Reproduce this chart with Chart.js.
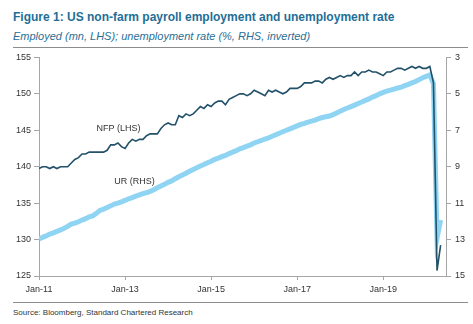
<!DOCTYPE html>
<html>
<head>
<meta charset="utf-8">
<script src="https://cdn.jsdelivr.net/npm/chart.js"></script>
<style>
  body { margin: 0; background: #fff; font-family: Arial, "Liberation Sans", sans-serif; }
  #wrap { position: relative; width: 473px; height: 324px; overflow: hidden; }
  .title { position: absolute; left: 13px; top: 10px; font-size: 12px; font-weight: bold; color: #1f6e97; line-height: 14px; white-space: nowrap; }
  .sub { position: absolute; left: 13px; top: 29px; font-size: 11px; font-style: italic; color: #2a6f96; line-height: 14px; white-space: nowrap; }
  .rule { position: absolute; left: 13px; width: 455px; height: 1px; background: #8c8c8c; }
  .source { position: absolute; left: 13px; top: 308px; font-size: 8px; color: #333; line-height: 10px; white-space: nowrap; }
  #box { position: absolute; left: 0; top: 48px; }
</style>
</head>
<body>
<div id="wrap">
  <div class="title">Figure 1: US non-farm payroll employment and unemployment rate</div>
  <div class="sub">Employed (mn, LHS); unemployment rate (%, RHS, inverted)</div>
  <div class="rule" style="top:47px"></div>
  <canvas id="box" width="473" height="254"></canvas>
  <div class="rule" style="top:302px"></div>
  <div class="source">Source: Bloomberg, Standard Chartered Research</div>
</div>

<script>
// months counted from Jan-11 (index 0) to May-20 (index 112)
const xTickMonths = [0, 24, 48, 72, 96];
const xTickLabels = ['Jan-11', 'Jan-13', 'Jan-15', 'Jan-17', 'Jan-19'];

// dark line, labelled NFP (LHS), mn
const nfpLHS = [
  139.75, 140.0, 140.0, 139.75, 140.0, 139.75, 140.0, 140.0, 140.0, 140.5, 141.0, 141.25,
  141.75, 141.75, 142.0, 142.0, 142.0, 142.0, 142.0, 142.25, 143.0, 143.0, 143.25, 142.75,
  142.5, 143.25, 143.75, 143.5, 143.75, 143.75, 144.25, 144.5, 144.5, 144.5, 145.25, 145.75,
  146.0, 145.75, 145.75, 147.0, 146.75, 147.25, 147.0, 147.25, 147.75, 148.25, 148.0, 148.5,
  148.25, 148.75, 149.0, 149.0, 148.5, 149.25, 149.5, 149.75, 150.0, 150.0, 149.75, 150.0,
  150.5, 150.25, 150.0, 149.75, 150.5, 150.25, 150.5, 150.25, 150.0, 150.25, 150.75, 150.75,
  150.75, 151.0, 151.5, 151.5, 151.5, 151.75, 151.75, 151.5, 152.0, 152.25, 152.0, 152.25,
  152.5, 152.25, 152.5, 152.5, 153.0, 152.5, 153.0, 153.0, 153.25, 153.0, 153.0, 152.75,
  152.5, 153.0, 153.0, 153.25, 153.5, 153.5, 153.25, 153.5, 153.75, 153.5, 153.75, 153.5,
  153.5, 153.75, 151.5, 125.75, 129.25
];

// light line, labelled UR (RHS, inverted), %
const urRHS = [
  12.96, 12.88, 12.80, 12.70, 12.63, 12.55, 12.47, 12.38, 12.28, 12.15, 12.10, 12.02,
  11.93, 11.85, 11.75, 11.70, 11.56, 11.40, 11.33, 11.24, 11.15, 11.05, 11.00, 10.93,
  10.85, 10.76, 10.70, 10.62, 10.55, 10.48, 10.42, 10.36, 10.26, 10.16, 10.06, 9.97,
  9.86, 9.78, 9.66, 9.55, 9.45, 9.36, 9.25, 9.15, 9.06, 8.96, 8.88, 8.78,
  8.70, 8.60, 8.53, 8.45, 8.38, 8.28, 8.20, 8.12, 8.02, 7.95, 7.87, 7.80,
  7.70, 7.63, 7.56, 7.48, 7.42, 7.33, 7.25, 7.16, 7.08, 7.00, 6.92, 6.84,
  6.76, 6.68, 6.62, 6.55, 6.50, 6.44, 6.36, 6.30, 6.26, 6.22, 6.14, 6.05,
  5.95, 5.86, 5.78, 5.70, 5.62, 5.53, 5.45, 5.36, 5.28, 5.18, 5.10, 5.00,
  4.92, 4.85, 4.80, 4.74, 4.68, 4.63, 4.55, 4.48, 4.40, 4.32, 4.22, 4.12,
  4.04, 3.96, 4.45, 12.92, 11.92
];

// in-chart labels: text, month index, value, axis
const noteText = ['NFP (LHS)', 'UR (RHS)'];
const noteX = [22.2, 26.6];
const noteY = [145.2, 9.84];
const noteAxis = ['y', 'y2'];

const toPoints = arr => arr.map((v, i) => ({ x: i, y: v }));

const notes = {
  id: 'notes',
  afterDatasetsDraw(chart) {
    const ctx = chart.ctx;
    ctx.save();
    ctx.font = '9px Arial, "Liberation Sans"';
    ctx.fillStyle = '#333';
    ctx.textAlign = 'center';
    ctx.textBaseline = 'middle';
    noteText.forEach((t, i) => {
      ctx.fillText(t, chart.scales.x.getPixelForValue(noteX[i]),
        chart.scales[noteAxis[i]].getPixelForValue(noteY[i]));
    });
    ctx.restore();
  }
};

const axisColor = '#a6a6a6';
const tickFont = { family: 'Arial, "Liberation Sans"', size: 9 };

new Chart(document.getElementById('box'), {
  type: 'line',
  data: {
    datasets: [
      {
        label: 'NFP (LHS)',
        data: toPoints(nfpLHS),
        yAxisID: 'y',
        borderColor: '#22516a',
        borderWidth: 1.6,
        pointRadius: 0,
        tension: 0
      },
      {
        label: 'UR (RHS)',
        data: toPoints(urRHS),
        yAxisID: 'y2',
        borderColor: '#8fd4f2',
        borderWidth: 5,
        pointRadius: 0,
        tension: 0
      }
    ]
  },
  options: {
    responsive: false,
    animation: false,
    layout: { padding: { top: 7, left: 0, right: 0, bottom: 0 } },
    plugins: { legend: { display: false }, tooltip: { enabled: false } },
    scales: {
      x: {
        type: 'linear',
        min: 0,
        max: 113.5,
        afterBuildTicks: scale => {
          scale.ticks = xTickMonths.map(v => ({ value: v }));
        },
        afterFit: scale => { scale.height = 26; },
        ticks: {
          callback: v => xTickLabels[xTickMonths.indexOf(v)],
          font: tickFont,
          color: '#333',
          padding: 4,
          maxRotation: 0,
          autoSkip: false
        },
        grid: { drawOnChartArea: false, tickLength: 4, color: axisColor },
        border: { color: axisColor }
      },
      y: {
        position: 'left',
        min: 125,
        max: 155,
        afterFit: scale => { scale.width = 39; },
        ticks: { stepSize: 5, font: tickFont, color: '#333', padding: 3 },
        grid: { drawOnChartArea: false, tickLength: 5, color: axisColor },
        border: { color: axisColor }
      },
      y2: {
        position: 'right',
        reverse: true,
        min: 3,
        max: 15,
        afterFit: scale => { scale.width = 27; },
        ticks: { stepSize: 2, font: tickFont, color: '#333', padding: 4 },
        grid: { drawOnChartArea: false, tickLength: 5, color: axisColor },
        border: { color: axisColor }
      }
    }
  },
  plugins: [notes]
});
</script>
</body>
</html>
